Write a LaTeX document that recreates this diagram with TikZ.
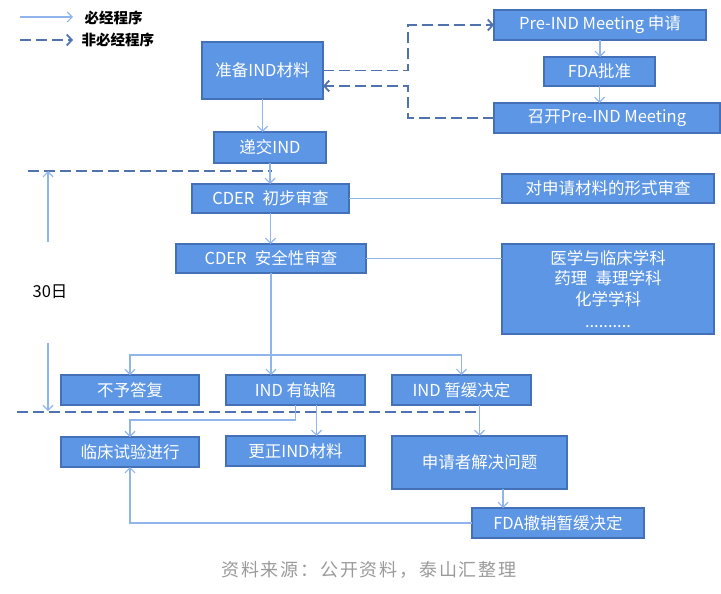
\documentclass[tikz,border=0pt]{standalone}
\usepackage{fontspec}
\setmainfont{Noto Sans CJK SC}
\usetikzlibrary{arrows.meta}

\definecolor{boxfill}{HTML}{5D96E4}
\definecolor{boxline}{HTML}{4470B8}
\definecolor{flowline}{HTML}{8FB5EC}
\definecolor{optline}{HTML}{5073AE}
\definecolor{notegray}{HTML}{9A9A9A}

\begin{document}
\begin{tikzpicture}[x=1pt,y=-1pt,
		box/.style={draw=boxline,fill=boxfill,text=white,line width=1.6pt,inner sep=0pt,outer sep=0pt,
			font=\fontsize{16.5}{20.5}\selectfont},
		flow/.style={draw=flowline,line width=1.2pt,-{Straight Barb[length=5pt,width=10pt]}},
		link/.style={draw=flowline,line width=1.2pt},
		opt/.style={draw=optline,line width=1.8pt,dash pattern=on 11pt off 5pt},
		optarrow/.style={opt,-{Straight Barb[length=5pt,width=11pt]}}]
		\useasboundingbox (0,0) rectangle (721,594);
		
		% legend
		\coordinate (la) at (20,17);
		\coordinate (lb) at (73,17);
		\coordinate (lc) at (20,40);
		\coordinate (ld) at (73,40);
		\draw[flow] (la) -- (lb);
		\draw[optarrow] (lc) -- (ld);
		\node[anchor=west,font=\fontsize{14.5}{16}\bfseries] (lgone) at (81,18) {必经程序};
		\node[anchor=west,font=\fontsize{14.5}{16}\bfseries] (lgtwo) at (78,40) {非必经程序};
		
		% boxes
		\node[box,minimum width=121,minimum height=57] (prep) at (262.5,70.5) {准备IND材料};
		\node[box,minimum width=112,minimum height=31] (sub) at (270,147.5) {递交IND};
		\node[box,minimum width=157,minimum height=29] (cdone) at (270.5,198.5) {CDER\enspace 初步审查};
		\node[box,minimum width=190,minimum height=29] (cdtwo) at (271,258.5) {CDER\enspace 安全性审查};
		\node[box,minimum width=212,minimum height=29] (form) at (608,188.5) {对申请材料的形式审查};
		\node[box,minimum width=212,minimum height=90,align=center] (sci) at (608,289)
			{医学与临床学科\\药理\enspace 毒理学科\\化学学科\\[2pt]..........};
		\node[box,minimum width=138,minimum height=30] (no) at (130,390) {不予答复};
		\node[box,minimum width=139,minimum height=30] (def) at (295.5,390) {IND 有缺陷};
		\node[box,minimum width=139,minimum height=30] (hold) at (461.5,390) {IND 暂缓决定};
		\node[box,minimum width=138,minimum height=30] (trial) at (130,452) {临床试验进行};
		\node[box,minimum width=139,minimum height=30] (fix) at (295.5,451) {更正IND材料};
		\node[box,minimum width=175,minimum height=53] (solve) at (479.5,462.5) {申请者解决问题};
		\node[box,minimum width=172,minimum height=30] (revoke) at (558,523) {FDA撤销暂缓决定};
		\node[box,minimum width=212,minimum height=30] (pre) at (600,25) {Pre-IND Meeting 申请};
		\node[box,minimum width=111,minimum height=29] (fda) at (599.5,71.5) {FDA批准};
		\node[box,minimum width=226,minimum height=30] (meet) at (607,118) {召开Pre-IND Meeting};
		
		% 30 days
		\coordinate (dayup) at (48,242);
		\coordinate (daytop) at (48,171);
		\coordinate (daydown) at (48,343);
		\coordinate (daybot) at (48,411);
		\draw[opt] (28,171) coordinate (lineone) -- (272,171);
		\draw[opt] (17,412) coordinate (linetwo) -- (479,412);
		\draw[flow] (dayup) -- (daytop);
		\draw[flow] (daydown) -- (daybot);
		\node[font=\fontsize{16.5}{20}\selectfont] (days) at (50,292) {30日};
		
		% main flow
		\draw[flow] (prep.south) -- (prep.south |- sub.north);
		\draw[flow] (sub.south) -- (sub.south |- cdone.north);
		\draw[flow] (cdone.south) -- (cdone.south |- cdtwo.north);
		\draw[link] (cdone.east) -- (cdone.east -| form.west);
		\draw[link] (cdtwo.east) -- (cdtwo.east -| sci.west);
		
		\coordinate (split) at (271,355);
		\draw[flow] (cdtwo.south) -- (cdtwo.south |- def.north);
		\draw[flow] (split) -| (no.north);
		\draw[flow] (split) -| (hold.north);
		
		\draw[flow] (def.south) -- ++(0,15) -| (trial.north);
		\draw[flow] ([xshift=21pt]def.south) -- ([xshift=21pt]fix.north);
		\draw[flow] (solve.north |- hold.south) -- (solve.north);
		\draw[flow] ([xshift=23.5pt]solve.south) -- ([xshift=23.5pt]solve.south |- revoke.north);
		\draw[flow] (revoke.west) -| (trial.south);
		
		% pre-IND meeting
		\coordinate (jog) at (408,0);
		\draw[flow] (pre.south) -- (pre.south |- fda.north);
		\draw[flow] (fda.south) -- (fda.south |- meet.north);
		\draw[optarrow] (prep.east) -- (prep.east -| jog) |- (pre.west);
		\draw[optarrow] (meet.west) -- (meet.west -| jog) |- ([yshift=-15.5pt]prep.east);
		
		% source
		\node[text=notegray,font=\fontsize{18}{20}\selectfont\addfontfeature{LetterSpace=10}] (src) at (369,570)
			{资料来源：公开资料，泰山汇整理};
\end{tikzpicture}
\end{document}
